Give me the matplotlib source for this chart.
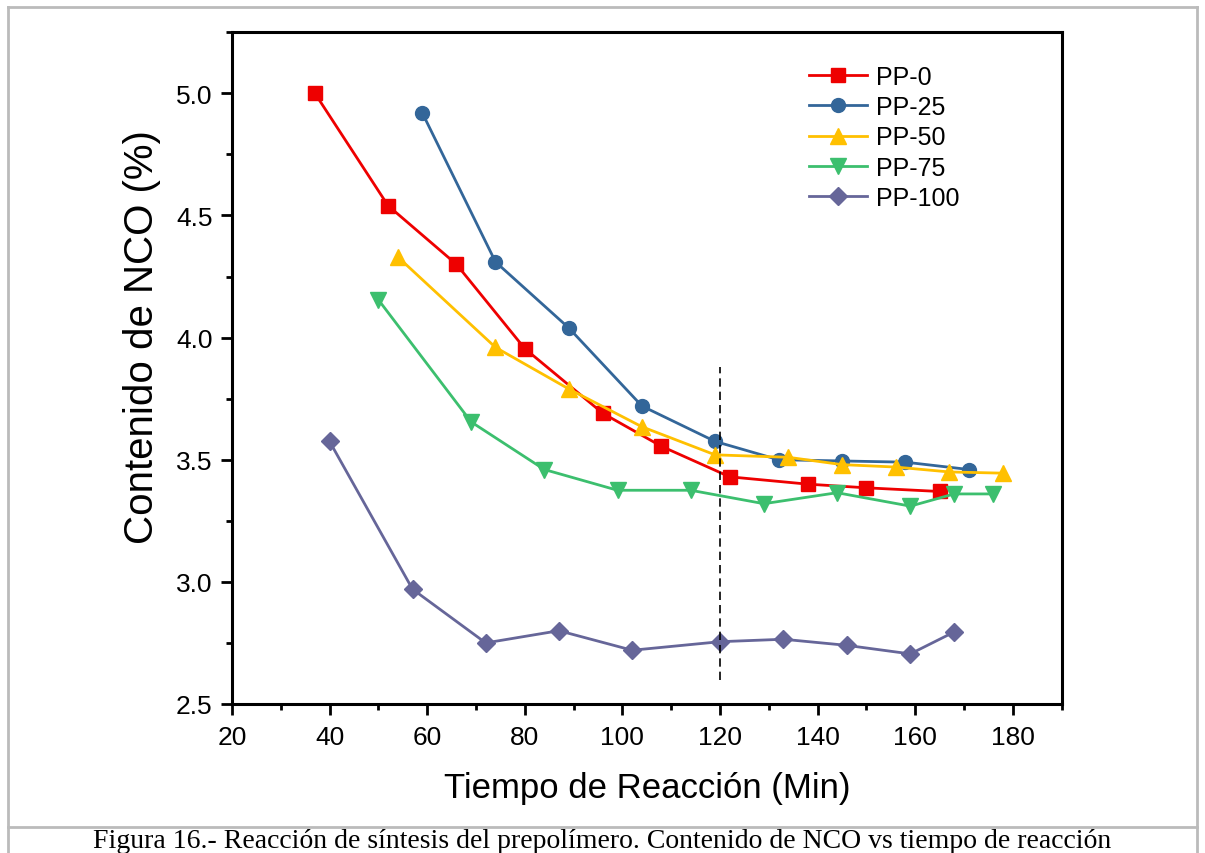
import matplotlib
matplotlib.use("Agg")
import matplotlib.pyplot as plt
from matplotlib.lines import Line2D
from matplotlib.ticker import MultipleLocator

plt.rcParams["font.family"] = ["Liberation Sans", "DejaVu Sans"]

# data
t_pp0 = [37, 52, 66, 80, 96, 108, 122, 138, 150, 165]
nco_pp0 = [5.00, 4.54, 4.30, 3.955, 3.69, 3.555, 3.43, 3.40, 3.385, 3.37]

t_pp25 = [59, 74, 89, 104, 119, 132, 145, 158, 171]
nco_pp25 = [4.92, 4.31, 4.04, 3.72, 3.575, 3.50, 3.495, 3.49, 3.46]

t_pp50 = [54, 74, 89, 104, 119, 134, 145, 156, 167, 178]
nco_pp50 = [4.33, 3.96, 3.79, 3.635, 3.52, 3.51, 3.48, 3.47, 3.45, 3.445]

t_pp75 = [50, 69, 84, 99, 114, 129, 144, 159, 168, 176]
nco_pp75 = [4.155, 3.655, 3.46, 3.375, 3.375, 3.32, 3.365, 3.31, 3.36, 3.36]

t_pp100 = [40, 57, 72, 87, 102, 120, 133, 146, 159, 168]
nco_pp100 = [3.575, 2.97, 2.75, 2.80, 2.72, 2.755, 2.765, 2.74, 2.705, 2.795]

series = [
    ("PP-0", t_pp0, nco_pp0, "#EE0000", "s", 10),
    ("PP-25", t_pp25, nco_pp25, "#336699", "o", 10),
    ("PP-50", t_pp50, nco_pp50, "#FFC000", "^", 11),
    ("PP-75", t_pp75, nco_pp75, "#3CBF6E", "v", 11),
    ("PP-100", t_pp100, nco_pp100, "#666699", "D", 9),
]

fig = plt.figure(figsize=(12.05, 8.54), dpi=100)
ax = fig.add_axes([0.1925, 0.1745, 0.6885, 0.7865])

for name, x, y, col, mk, ms in series:
    ax.plot(x, y, color=col, marker=mk, ms=ms, lw=2, label=name)

# vertical dashed marker at 120 min
ax.plot([120, 120], [2.60, 3.88], color="black", ls=(0, (5, 3)), lw=1.2)

ax.set_xlim(20, 190)
ax.set_ylim(2.5, 5.25)
ax.xaxis.set_major_locator(MultipleLocator(20))
ax.xaxis.set_minor_locator(MultipleLocator(10))
ax.yaxis.set_major_locator(MultipleLocator(0.5))
ax.yaxis.set_minor_locator(MultipleLocator(0.25))
ax.tick_params(which="both", direction="out", width=2, labelsize=19)
ax.tick_params(axis="x", pad=7)
ax.tick_params(axis="y", pad=6)
ax.tick_params(which="major", length=8)
ax.tick_params(which="minor", length=4)
for sp in ax.spines.values():
    sp.set_linewidth(2.2)

ax.set_xlabel("Tiempo de Reacción (Min)", fontsize=25, labelpad=16)
ax.set_ylabel("Contenido de NCO (%)", fontsize=29)
ax.yaxis.set_label_coords(-0.086, 0.548)

leg = ax.legend(loc="upper left", bbox_to_anchor=(0.669, 0.985), frameon=False,
                fontsize=18, handlelength=2.3, labelspacing=0.25, handletextpad=0.35)

# surrounding frame and caption
frame = "#BBBBBB"
fig.add_artist(Line2D([8 / 1205, 1197 / 1205], [1 - 8 / 854, 1 - 8 / 854], color=frame, lw=2))
fig.add_artist(Line2D([8 / 1205, 8 / 1205], [1 - 8 / 854, 0], color=frame, lw=2))
fig.add_artist(Line2D([1197 / 1205, 1197 / 1205], [1 - 8 / 854, 0], color=frame, lw=2))
fig.add_artist(Line2D([8 / 1205, 1197 / 1205], [1 - 828 / 854, 1 - 828 / 854], color=frame, lw=2))
fig.text(0.5, 1 - 848 / 854,
         "Figura 16.- Reacción de síntesis del prepolímero. Contenido de NCO vs tiempo de reacción",
         ha="center", va="baseline", fontsize=20, family=["Liberation Serif", "DejaVu Serif"])

fig.savefig("out.png", dpi=100)
